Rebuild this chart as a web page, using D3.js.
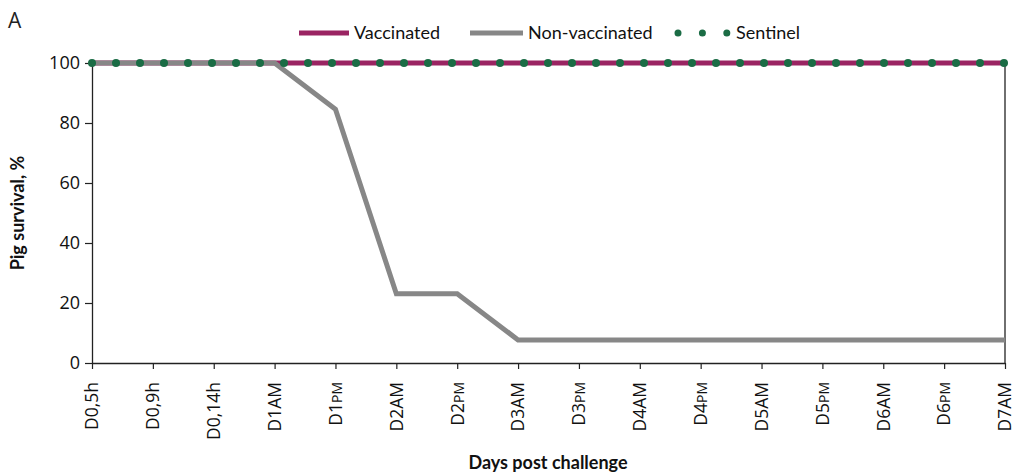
<!DOCTYPE html>
<html>
<head>
<meta charset="utf-8">
<script src="https://cdn.jsdelivr.net/npm/d3@7"></script>
<style>
  body { margin: 0; background: #fff; }
  svg { display: block; }
</style>
</head>
<body>
<div id="chart"></div>
<script>
// categories (time points) and survival values, %
var days = ["D0,5h", "D0,9h", "D0,14h", "D1AM", "D1PM", "D2AM", "D2PM", "D3AM",
            "D3PM", "D4AM", "D4PM", "D5AM", "D5PM", "D6AM", "D6PM", "D7AM"];
var vaccinated = [100, 100, 100, 100, 100, 100, 100, 100, 100, 100, 100, 100, 100, 100, 100, 100];
var nonVaccinated = [100, 100, 100, 100, 84.6, 23.1, 23.1, 7.7, 7.7, 7.7, 7.7, 7.7, 7.7, 7.7, 7.7, 7.7];
var sentinel = [100, 100, 100, 100, 100, 100, 100, 100, 100, 100, 100, 100, 100, 100, 100, 100];
var yTicks = [0, 20, 40, 60, 80, 100];

var W = 1022, H = 475;
var margin = {top: 63, right: 17, bottom: 112, left: 92},
    width = W - margin.left - margin.right,
    height = H - margin.top - margin.bottom;

var colVac = "#9a2462", colNon = "#878787", colSen = "#1b6c45";

var svg = d3.select("#chart").append("svg")
    .attr("width", W)
    .attr("height", H);

var g = svg.append("g")
    .attr("transform", "translate(" + margin.left + "," + margin.top + ")");

// set the ranges
var x = d3.scalePoint().domain(days).range([0, width]);
var y = d3.scaleLinear().domain([0, 100]).range([height, 0]);

// panel letter
svg.append("text")
    .attr("x", 8).attr("y", 28)
    .style("font-family", "Open Sans, sans-serif")
    .style("font-size", "21px")
    .attr("fill", "#222")
    .text("A");

// y axis
var yAxis = g.append("g")
    .call(d3.axisLeft(y).tickValues(yTicks).tickSize(7).tickSizeOuter(0).tickPadding(5));
yAxis.select(".domain").attr("stroke", "#222").attr("stroke-width", 1.3);
yAxis.selectAll(".tick line").attr("stroke", "#222").attr("stroke-width", 1.2);
yAxis.selectAll(".tick text")
    .attr("fill", "#111")
    .style("font-family", "Open Sans, sans-serif")
    .style("font-size", "18px");

// x axis
var xAxis = g.append("g")
    .attr("transform", "translate(0," + height + ")")
    .call(d3.axisBottom(x).tickSize(6).tickSizeOuter(0).tickFormat(""));
xAxis.select(".domain").attr("stroke", "#222").attr("stroke-width", 1.3);
xAxis.selectAll(".tick line").attr("stroke", "#222").attr("stroke-width", 1.2);

// x tick labels, rotated, with small caps PM
var xl = g.append("g").selectAll("text")
    .data(days)
    .enter().append("text")
    .attr("transform", function(d) { return "translate(" + x(d) + "," + (height + 19) + ") rotate(-90)"; })
    .attr("text-anchor", "end")
    .attr("dy", "0.36em")
    .attr("fill", "#111")
    .style("font-family", "Open Sans, sans-serif")
    .style("font-size", "17.5px");
xl.each(function(d) {
    var t = d3.select(this);
    var m = d.match(/^(.*?)(AM|PM)$/);
    if (m) {
        t.append("tspan").text(m[1]);
        t.append("tspan").style("font-size", m[2] === "PM" ? "14px" : "17.5px").text(m[2]);
    } else {
        t.text(d);
    }
});

// right frame line
g.append("line")
    .attr("x1", width).attr("x2", width)
    .attr("y1", 0).attr("y2", height)
    .attr("stroke", "#222").attr("stroke-width", 1.3);

// lines
var line = d3.line()
    .x(function(d, i) { return x(days[i]); })
    .y(function(d) { return y(d); });

g.append("path")
    .datum(vaccinated)
    .attr("fill", "none")
    .attr("stroke", colVac)
    .attr("stroke-width", 5)
    .attr("d", line);

g.append("path")
    .datum(nonVaccinated)
    .attr("fill", "none")
    .attr("stroke", colNon)
    .attr("stroke-width", 5)
    .attr("stroke-linejoin", "miter")
    .attr("d", line);

g.append("path")
    .datum(sentinel)
    .attr("fill", "none")
    .attr("stroke", colSen)
    .attr("stroke-width", 8)
    .attr("stroke-linecap", "round")
    .attr("stroke-dasharray", "0.01,23.99")
    .attr("d", line);

// axis titles
svg.append("text")
    .attr("x", 548).attr("y", 469)
    .attr("text-anchor", "middle")
    .attr("fill", "#111")
    .style("font-family", "Lato, sans-serif")
    .style("font-weight", "bold")
    .style("font-size", "18px")
    .text("Days post challenge");

svg.append("text")
    .attr("transform", "translate(24," + (margin.top + height / 2) + ") rotate(-90)")
    .attr("text-anchor", "middle")
    .attr("fill", "#111")
    .style("font-family", "Lato, sans-serif")
    .style("font-weight", "bold")
    .style("font-size", "18px")
    .text("Pig survival, %");

// legend
var legendItems = [
    {name: "Vaccinated", color: colVac, x0: 299, x1: 349, tx: 354, dots: false},
    {name: "Non-vaccinated", color: colNon, x0: 470, x1: 523, tx: 528, dots: false},
    {name: "Sentinel", color: colSen, x0: 678, x1: 727, tx: 736, dots: true}
];
var legend = svg.append("g");
legendItems.forEach(function(it) {
    var l = legend.append("line")
        .attr("x1", it.x0).attr("x2", it.x1)
        .attr("y1", 33).attr("y2", 33)
        .attr("stroke", it.color);
    if (it.dots) {
        l.attr("stroke-width", 7).attr("stroke-linecap", "round").attr("stroke-dasharray", "0.01,24.39");
    } else {
        l.attr("stroke-width", 5);
    }
    legend.append("text")
        .attr("x", it.tx).attr("y", 39)
        .attr("fill", "#111")
        .style("font-family", "Lato, sans-serif")
        .style("font-size", "18px")
        .text(it.name);
});
</script>
</body>
</html>
